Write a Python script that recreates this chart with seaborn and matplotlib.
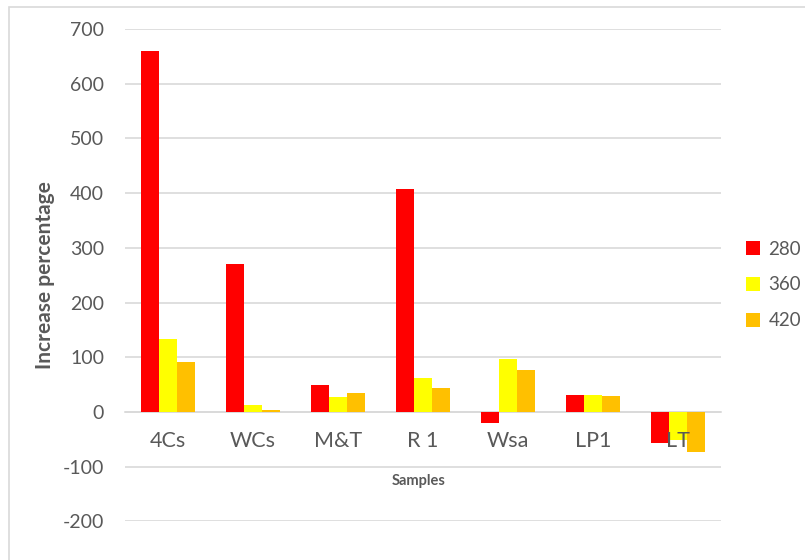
import matplotlib
matplotlib.use("Agg")
import matplotlib.pyplot as plt
import seaborn as sns
import pandas as pd
from matplotlib.patches import Rectangle, Patch

samples = ["4Cs", "WCs", "M&T", "R 1", "Wsa", "LP1", "LT"]
series_names = ["280", "360", "420"]
v280 = [659, 270, 49, 407, -21, 31, -57]
v360 = [133, 12, 27, 63, 97, 31, -51]
v420 = [91, 3, 34, 43, 77, 29, -74]
colors = ["#FF0000", "#FFFF00", "#FFC000"]

rows = []
for name, vals in zip(series_names, [v280, v360, v420]):
    for s, v in zip(samples, vals):
        rows.append({"Samples": s, "Series": name, "Value": v})
df = pd.DataFrame(rows)

sns.set_theme(style="white")
plt.rcParams["font.family"] = ["Lato", "DejaVu Sans"]
plt.rcParams["axes.unicode_minus"] = False

W, H = 805, 560
fig = plt.figure(figsize=(W / 100, H / 100), dpi=100)
left, right, top, bottom = 125, 721, 29, 521.4
ax = fig.add_axes([left / W, 1 - bottom / H, (right - left) / W, (bottom - top) / H])

sns.barplot(data=df, x="Samples", y="Value", hue="Series", order=samples,
            hue_order=series_names, palette=colors, width=0.635,
            linewidth=0, saturation=1, ax=ax, legend=False)

ax.set_ylim(-200, 700)
ax.set_xlim(-0.5, len(samples) - 0.5)
ax.set_yticks(range(-200, 701, 100))
ax.yaxis.grid(True, color="#D9D9D9", linewidth=1.2)
ax.set_axisbelow(True)
ax.xaxis.set_zorder(5)
for sp in ["left", "right", "top"]:
    ax.spines[sp].set_visible(False)
ax.spines["bottom"].set_position(("data", 0))
ax.spines["bottom"].set_color("#D9D9D9")
ax.spines["bottom"].set_linewidth(1.2)
ax.spines["bottom"].set_zorder(0.5)

ax.tick_params(axis="y", length=0, pad=15, labelsize=14, labelcolor="#595959")
ax.tick_params(axis="x", length=0, pad=14, labelsize=15.5, labelcolor="#595959")

ax.set_ylabel("Increase percentage", fontsize=15, fontweight="bold", color="#595959")
ax.yaxis.set_label_coords(-0.134, 0.5)
ax.yaxis.label.set_va("center")
ax.set_xlabel("Samples", fontsize=10.5, fontweight="bold", color="#595959")
ax.xaxis.set_label_coords(0.492, 0.082)
ax.xaxis.label.set_va("center")

handles = [Patch(facecolor=c, edgecolor="none") for c in colors]
fig.legend(handles, series_names, loc="center left", bbox_to_anchor=(746 / W, 1 - 285 / H),
           frameon=False, fontsize=13.5, labelcolor="#595959", handlelength=0.75,
           handleheight=0.75, handletextpad=0.45, labelspacing=1.0,
           borderpad=0, borderaxespad=0)

fig.patches.append(Rectangle((9 / W, -0.1), 1.2, 1 - 7 / H + 0.1, transform=fig.transFigure,
                             fill=False, edgecolor="#D9D9D9", linewidth=1.2))

fig.savefig("out.png", dpi=100)
